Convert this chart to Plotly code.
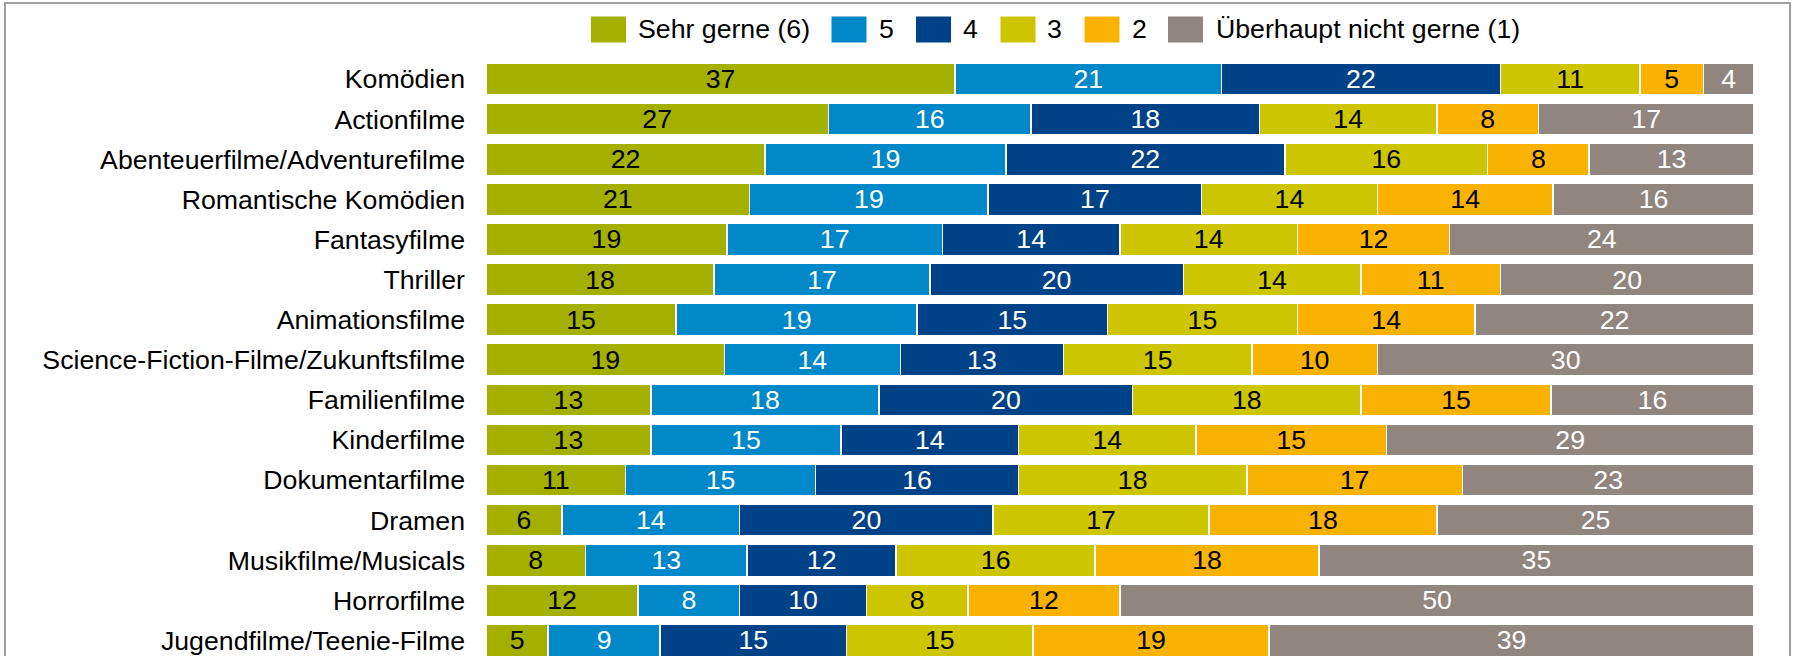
import plotly.graph_objects as go

categories = [
    "Komödien", "Actionfilme", "Abenteuerfilme/Adventurefilme", "Romantische Komödien",
    "Fantasyfilme", "Thriller", "Animationsfilme", "Science-Fiction-Filme/Zukunftsfilme",
    "Familienfilme", "Kinderfilme", "Dokumentarfilme", "Dramen", "Musikfilme/Musicals",
    "Horrorfilme", "Jugendfilme/Teenie-Filme",
]
series_names = ["Sehr gerne (6)", "5", "4", "3", "2", "Überhaupt nicht gerne (1)"]

sehr_gerne_6 = [37, 27, 22, 21, 19, 18, 15, 19, 13, 13, 11, 6, 8, 12, 5]
wert_5 = [21, 16, 19, 19, 17, 17, 19, 14, 18, 15, 15, 14, 13, 8, 9]
wert_4 = [22, 18, 22, 17, 14, 20, 15, 13, 20, 14, 16, 20, 12, 10, 15]
wert_3 = [11, 14, 16, 14, 14, 14, 15, 15, 18, 14, 18, 17, 16, 8, 15]
wert_2 = [5, 8, 8, 14, 12, 11, 14, 10, 15, 15, 17, 18, 18, 12, 19]
ueberhaupt_nicht_1 = [4, 17, 13, 16, 24, 20, 22, 30, 16, 29, 23, 25, 35, 50, 39]

series_values = [sehr_gerne_6, wert_5, wert_4, wert_3, wert_2, ueberhaupt_nicht_1]

colors = ["#A3B000", "#0088C8", "#004287", "#CDC500", "#F9B200", "#918580"]
text_colors = ["#000000", "#FFFFFF", "#FFFFFF", "#000000", "#000000", "#FFFFFF"]

FONT = "Liberation Sans, Arial, sans-serif"
FS = 26.7

W, H = 1793, 656
ML, MR, MT, MB = 486, 39, 59, 0
PW = W - ML - MR
PH = H - MT - MB
ROW_PX = 40.1


def px_x(p):
    return (p - ML) / PW


def px_y(p):
    return (H - MB - p) / PH


fig = go.Figure()
for name, vals, col, tcol in zip(series_names, series_values, colors, text_colors):
    fig.add_trace(go.Bar(
        y=categories, x=vals, name=name, orientation="h",
        marker=dict(color=col, line=dict(color="#FFFFFF", width=1.5)),
        text=[str(v) for v in vals], textposition="inside",
        insidetextanchor="middle", textangle=0, constraintext="none",
        textfont=dict(family=FONT, size=FS, color=tcol),
        showlegend=False, hoverinfo="x+y+name",
    ))

shapes = []
annotations = []
# frame
shapes.append(dict(type="rect", xref="paper", yref="paper",
                   x0=px_x(5), x1=px_x(1790), y0=px_y(H + 20), y1=px_y(3),
                   line=dict(color="#A0A0A0", width=2), fillcolor="rgba(0,0,0,0)", layer="below"))

# custom legend (large swatches)
legend_square_x = [591, 831.5, 916, 1000.5, 1084.5, 1168]
legend_text_x = [638, 879, 963, 1047, 1132, 1216]
sq_w, sq_top, sq_bot, leg_mid = 35, 16.5, 42.5, 29.5
for name, col, sx, tx in zip(series_names, colors, legend_square_x, legend_text_x):
    shapes.append(dict(type="rect", xref="paper", yref="paper",
                       x0=px_x(sx), x1=px_x(sx + sq_w), y0=px_y(sq_bot), y1=px_y(sq_top),
                       line=dict(width=0), fillcolor=col))
    annotations.append(dict(xref="paper", yref="paper", x=px_x(tx - 2), y=px_y(leg_mid),
                            xanchor="left", yanchor="middle", showarrow=False, text=name,
                            font=dict(family=FONT, size=FS, color="#000000")))

fig.update_layout(
    width=W, height=H,
    barmode="stack", barnorm="percent", bargap=0.2,
    margin=dict(l=ML, r=MR, t=MT, b=MB, pad=0, autoexpand=False),
    paper_bgcolor="#FFFFFF", plot_bgcolor="#FFFFFF",
    font=dict(family=FONT, size=FS, color="#000000"),
    xaxis=dict(range=[0, 100], visible=False, showgrid=False, zeroline=False,
               fixedrange=True, automargin=False),
    yaxis=dict(type="category", categoryorder="array", categoryarray=categories,
               range=[PH / ROW_PX - 0.5, -0.5], showgrid=False, zeroline=False, showline=False,
               ticks="", ticklabelstandoff=20, automargin=False,
               tickfont=dict(family=FONT, size=FS, color="#000000")),
    shapes=shapes, annotations=annotations,
)

fig.write_html(
    "out.html",
    config={"displayModeBar": False},
    post_script="document.body.style.margin='0';document.body.style.overflow='hidden';",
)
